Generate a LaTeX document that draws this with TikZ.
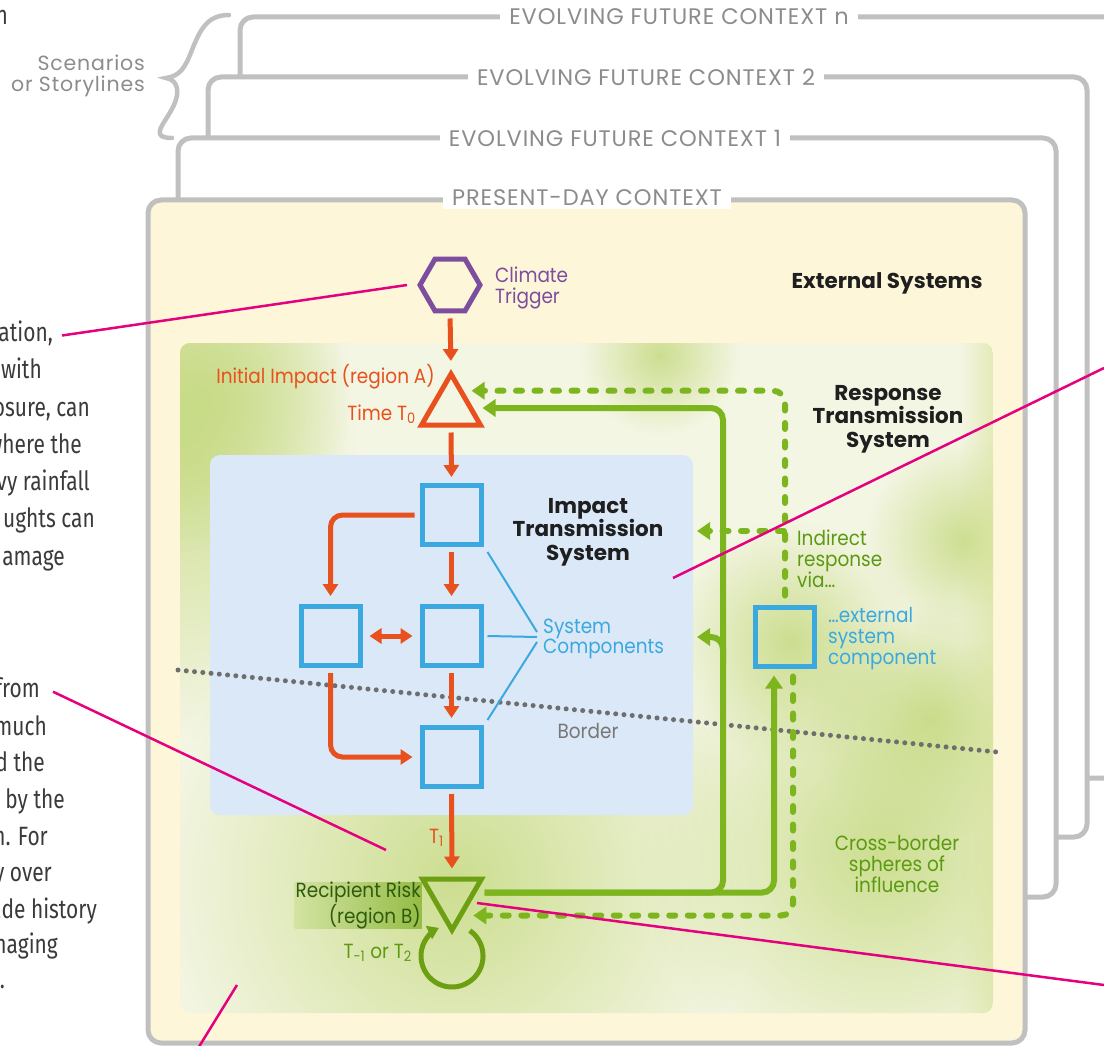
\documentclass[tikz,border=0pt]{standalone}
\usepackage{fontspec}
\setmainfont{Poppins}[FakeStretch=0.9]
\newfontfamily\popw{Poppins}
\newfontfamily\cond{Fira Sans}[FakeStretch=0.79]
\usetikzlibrary{arrows.meta,fadings,shapes.geometric}
\definecolor{orng}{HTML}{E8501E}
\definecolor{purp}{HTML}{7D4E9E}
\definecolor{sblue}{HTML}{3BA9E0}
\definecolor{gline}{HTML}{7DB51F}
\definecolor{gdark}{HTML}{6CA012}
\definecolor{gtext}{HTML}{5C9A12}
\definecolor{gdeep}{HTML}{2F5C0C}
\definecolor{pink}{HTML}{E5007D}
\definecolor{framec}{HTML}{C0C0C0}
\definecolor{gtxt}{HTML}{8C8C8C}
\definecolor{dotc}{HTML}{6E6E6E}
\definecolor{bluebg}{HTML}{DAE8F7}
\definecolor{cream}{HTML}{FDF6D8}
\definecolor{innerc}{HTML}{F4F6E4}
\definecolor{blobc}{HTML}{C6DA82}
\definecolor{edgec}{HTML}{D9E39C}
\definecolor{lefttxt}{HTML}{3A3A3A}
\definecolor{rrA}{HTML}{D3E3A2}
\definecolor{rrB}{HTML}{95BC45}
\tikzfading[name=blobfade, inner color=transparent!0, outer color=transparent!100]
\newcommand\lblfont{\fontsize{20.5}{21}\selectfont}
\newcommand\hdrfont{\popw\bfseries\fontsize{21.5}{23.5}\selectfont}
\newcommand\ctxfont{\popw\fontsize{22.5}{24}\selectfont\addfontfeatures{LetterSpace=4}}
\newcommand\scenfont{\popw\fontsize{20.5}{21}\selectfont\addfontfeatures{LetterSpace=4}}
\newcommand\leftfont{\cond\fontsize{26.5}{30}\selectfont}
\begin{document}
\begin{tikzpicture}[x=1pt,y=-1pt,
  ctxframe/.style={draw=framec, line width=5pt, rounded corners=13pt, fill=white},
  ctxlabel/.style={fill=white, text=gtxt, inner xsep=9pt, inner ysep=3pt, font=\ctxfont},
  comp/.style={draw=sblue, line width=5pt, minimum size=59pt, inner sep=0pt},
  oarr/.style={draw=orng, line width=5pt, -{Triangle[length=12pt,width=15pt]}, rounded corners=12pt, shorten <=5pt, shorten >=6pt},
  garr/.style={draw=gline, line width=6pt, -{Triangle[length=13pt,width=17pt]}, rounded corners=12pt},
  gdash/.style={garr, dash pattern=on 6pt off 12.5pt, line cap=round},
  lbl/.style={inner sep=0pt, font=\lblfont},
  hdr/.style={inner sep=0pt, font=\hdrfont, align=center, text=black!88},
  lefttext/.style={inner sep=0pt, anchor=base east, text=lefttxt, font=\leftfont},
  pinkline/.style={draw=pink, line width=2.5pt},
  blob/.style={fill=blobc, path fading=blobfade, fill opacity=0.85},
]
\useasboundingbox (0,0) rectangle (1104,1046);
\clip (0,0) rectangle (1104,1046);

% context frames
\draw[ctxframe] (240,17) rectangle (1125,778);
\draw[ctxframe] (208,77) rectangle (1087,837);
\draw[ctxframe] (178,138) rectangle (1056,897);
\draw[ctxframe, fill=cream] (148,200) rectangle (1025,1043);

\node[ctxlabel] (ctxn) at (679,17) {EVOLVING FUTURE CONTEXT n};
\node[ctxlabel] (ctx2) at (646,77) {EVOLVING FUTURE CONTEXT 2};
\node[ctxlabel] (ctx1) at (615,138) {EVOLVING FUTURE CONTEXT 1};
\node[ctxlabel] (ctx0) at (587,198) {PRESENT-DAY CONTEXT};

% brace and scenarios
\draw[framec, line width=4.5pt, line cap=round]
  (229,15) .. controls (207,15) and (200,30) .. (192,50)
  .. controls (185,68) and (180,76) .. (166,78)
  .. controls (178,80) and (180,92) .. (174,105)
  .. controls (168,118) and (158,128) .. (160,134)
  .. controls (161,137) and (166,138) .. (172,138);
\node[inner sep=0pt, text=gtxt, font=\scenfont, align=right, anchor=base east] (scen) at (145,92) {Scenarios\\or Storylines};

% inner response region
\fill[innerc, rounded corners=10pt] (180,343) rectangle (993,1013);
\begin{scope}
  \clip[rounded corners=10pt] (180,343) rectangle (993,1013);
  \fill[blob] (185,440) ellipse (170 and 300);
  \fill[blob] (200,400) circle (150);
  \fill[blob] (660,355) circle (80);
  \fill[blob] (965,540) circle (100);
  \fill[blob] (455,880) circle (300);
  \fill[blob] (880,850) circle (240);
  \fill[blob] (790,640) circle (120);
  \fill[blob] (930,720) circle (120);
  \fill[edgec, path fading=west, opacity=0.6] (960,343) rectangle (993,1013);
\end{scope}

% impact system region
\fill[bluebg, rounded corners=10pt] (210,455) rectangle (693,815);

% border
\draw[dotc, line width=5pt, dash pattern=on 0pt off 8.3pt, line cap=round] (178,670) -- (997,752);
\node[lbl, text=gtxt!85!black, anchor=base] (brd) at (588,738) {Border};

% trigger
\node[regular polygon, regular polygon sides=6, draw=purp, line width=5pt, minimum size=60pt, inner sep=0pt] (trig) at (450,285) {};
\node[lbl, text=purp, align=left, anchor=base west] (trigl) at (495,303) {Climate\\Trigger};

% initial impact triangle
\node[regular polygon, regular polygon sides=3, draw=orng, line width=5pt, minimum size=68pt, inner sep=0pt] (trA) at (451,408) {};
\node[lbl, text=orng, anchor=base east] (iia) at (435,383) {Initial Impact (region A)};
\node[lbl, text=orng, anchor=base east] (t0) at (416,420) {Time T\textsubscript{0}};

% recipient triangle
\node[regular polygon, regular polygon sides=3, shape border rotate=180, draw=gdark, line width=5pt, minimum size=68pt, inner sep=0pt] (trB) at (452,896) {};
\node[anchor=east, align=right, left color=rrA, right color=rrB, text=gdeep, font=\fontsize{20.5}{20}\selectfont, inner xsep=1pt, inner ysep=0pt, minimum height=45pt] (rrl) at (422,905.5) {Recipient Risk\\(region B)};
\draw[gdark, line width=5pt, -{Triangle[length=11pt,width=14pt]}] ([xshift=17.8pt,yshift=-34.6pt]trB.center) arc[start angle=-55, end angle=245, radius=31];
\node[lbl, text=gtext, anchor=base east] (tt) at (412,958) {T\textsubscript{-1} or T\textsubscript{2}};

% components
\node[comp] (b1) at (451.5,515) {};
\node[comp] (b2) at (451.5,636) {};
\node[comp] (b3) at (330.5,636) {};
\node[comp] (b4) at (451.5,757) {};
\node[comp] (ext) at (785,636.5) {};

\node[hdr, anchor=base] (its) at (588,560) {Impact\\Transmission\\System};
\node[hdr, anchor=base] (rts) at (888,447) {Response\\Transmission\\System};
\node[hdr, anchor=base] (exs) at (887,288) {External Systems};

\node[lbl, text=sblue, align=left, anchor=base west, font=\fontsize{20.5}{20}\selectfont] (sc) at (543,653) {System\\Components};
\coordinate (scp) at (537,637);
\draw[sblue, line width=2pt] ([shift={(4pt,-5pt)}]b1.south east) -- ([yshift=5pt]scp);
\draw[sblue, line width=2pt] ([xshift=4pt]b2.east) -- (scp);
\draw[sblue, line width=2pt] ([shift={(4pt,5pt)}]b4.north east) -- ([yshift=-5pt]scp);

\node[lbl, text=gtext, align=left, anchor=base west] (ind) at (797,587) {Indirect\\response\\via\ldots};
\node[lbl, text=sblue, align=left, anchor=base west] (extl) at (828,664) {\ldots{}external\\system\\component};
\node[lbl, text=gtext, align=center, anchor=base] (cb) at (897,892) {Cross-border\\spheres of\\influence};
\node[lbl, text=orng, anchor=base east] (t1) at (444,843) {T\textsubscript{1}};

% orange arrows
\draw[oarr, shorten >=8pt] (trig.south) -- (trA.north);
\draw[oarr] (trA.south) -- (b1.north);
\draw[oarr, shorten >=8pt] (b1.south) -- (b2.north);
\draw[oarr, shorten >=8pt] (b1.west) -| (b3.north);
\draw[oarr, {Triangle[length=12pt,width=15pt]}-{Triangle[length=12pt,width=15pt]}, shorten <=7pt, shorten >=7pt] (b3.east) -- (b2.west);
\draw[oarr, shorten >=7pt] (b2.south) -- (b4.north);
\draw[oarr, shorten >=7pt] (b3.south) |- (b4.west);
\draw[oarr, shorten >=8pt] (b4.south) -- (trB.north);

% green arrows
\coordinate (vx) at (723,0);
\coordinate (dx) at (784,0);
\coordinate (inRes) at (697,637);
\coordinate (inInd) at (697,531);
\draw[garr] ([xshift=8pt]trB.8) -| (vx |- trA.east) -- ([xshift=9pt]trA.east);
\draw[garr] ([xshift=8pt]trB.8) -| ([shift={(-11pt,-7pt)}]ext.south);
\draw[garr] (723,664) |- (inRes);
\draw[gdash] ([yshift=9pt]ext.north) |- ([xshift=8pt]trA.54);
\draw[gdash] (dx |- inInd) -- (inInd);
\draw[gdash] ([shift={(8pt,-8pt)}]ext.south) |- ([xshift=10pt]trB.-60);

% left cut-off text
\node[lefttext] (l0) at (8,25) {n};
\node[lefttext] (l1) at (53,341.5) {ation,};
\node[lefttext] (l2) at (42,378.8) {with};
\node[lefttext] (l3) at (90,416) {osure, can};
\node[lefttext] (l4) at (82,453.3) {where the};
\node[lefttext] (l5) at (90,490.6) {vy rainfall};
\node[lefttext] (l6) at (95,527.9) {ughts can};
\node[lefttext] (l7) at (65,565.2) {amage};
\node[lefttext] (m1) at (40,697.7) {from};
\node[lefttext] (m2) at (47,735) {much};
\node[lefttext] (m3) at (45,771.7) {d the};
\node[lefttext] (m4) at (65,808) {by the};
\node[lefttext] (m5) at (48,845) {m. For};
\node[lefttext] (m6) at (52,881.7) {y over};
\node[lefttext] (m7) at (97,918) {ade history};
\node[lefttext] (m8) at (58,953) {naging};
\node[lefttext] (m9) at (5,988) {.};

% pink callout lines
\coordinate (pA) at (407,285);
\coordinate (pB1) at (673,578);
\coordinate (pB2) at (1104,368);
\coordinate (pC) at (386,850);
\coordinate (pD1) at (477,903);
\coordinate (pD2) at (1104,985);
\coordinate (pE1) at (237,985);
\coordinate (pE2) at (197,1050);
\draw[pinkline] ([xshift=9pt,yshift=6pt]l1.base east) -- (pA);
\draw[pinkline] (pB1) -- (pB2);
\draw[pinkline] ([xshift=13pt,yshift=6pt]m1.base east) -- (pC);
\draw[pinkline] (pD1) -- (pD2);
\draw[pinkline] (pE1) -- (pE2);
\end{tikzpicture}
\end{document}
